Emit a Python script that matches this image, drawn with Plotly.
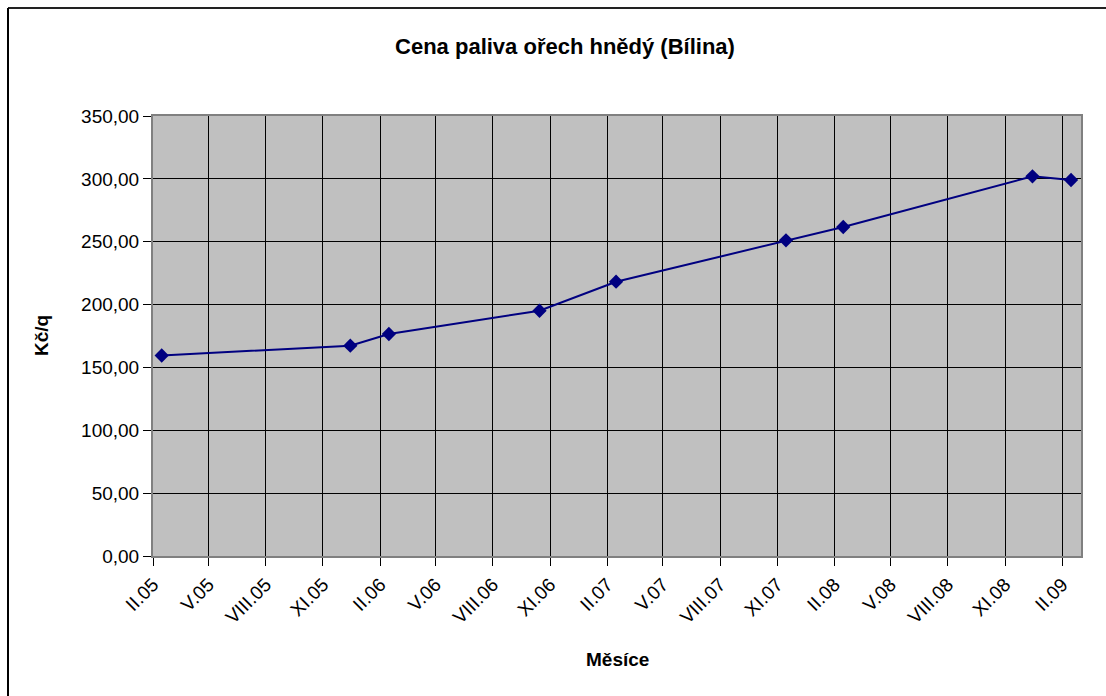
import plotly.graph_objects as go

# Price of brown coal "ořech" fuel from Bílina, Kč per quintal
dates = [
    "2005-02-15", "2005-12-15", "2006-02-15", "2006-10-15", "2007-02-15",
    "2007-11-15", "2008-02-15", "2008-12-15", "2009-02-15",
]
prices = [159.5, 167.3, 176.6, 195.1, 218.2, 251.1, 261.7, 302.0, 299.1]

# Quarterly month ticks labelled with Roman-numeral months
tick_dates = [
    "2005-02-01", "2005-05-01", "2005-08-01", "2005-11-01",
    "2006-02-01", "2006-05-01", "2006-08-01", "2006-11-01",
    "2007-02-01", "2007-05-01", "2007-08-01", "2007-11-01",
    "2008-02-01", "2008-05-01", "2008-08-01", "2008-11-01",
    "2009-02-01",
]
tick_labels = [
    "II.05", "V.05", "VIII.05", "XI.05",
    "II.06", "V.06", "VIII.06", "XI.06",
    "II.07", "V.07", "VIII.07", "XI.07",
    "II.08", "V.08", "VIII.08", "XI.08",
    "II.09",
]
y_ticks = [0, 50, 100, 150, 200, 250, 300, 350]

FONT = "Liberation Sans, Arial, sans-serif"
NAVY = "#000080"
TICK_SIZE = 19

fig = go.Figure(
    go.Scatter(
        x=dates,
        y=prices,
        mode="lines+markers",
        line=dict(color=NAVY, width=2),
        marker=dict(symbol="diamond", size=11, color=NAVY),
        showlegend=False,
        hoverinfo="x+y",
    )
)

axis_common = dict(
    ticks="outside",
    ticklen=8,
    tickcolor="black",
    tickfont=dict(family=FONT, size=TICK_SIZE, color="black"),
    showgrid=True,
    gridcolor="black",
    gridwidth=1,
    showline=True,
    linecolor="#808080",
    linewidth=2,
    mirror=True,
    zeroline=False,
    fixedrange=True,
)

fig.update_layout(
    width=1106,
    height=696,
    margin=dict(l=153, r=25, t=116, b=140, autoexpand=False),
    paper_bgcolor="white",
    plot_bgcolor="#C0C0C0",
    separators=", ",
    font=dict(family=FONT, size=TICK_SIZE, color="black"),
    title=dict(
        text="<b>Cena paliva ořech hnědý (Bílina)</b>",
        x=565 / 1106,
        xref="container",
        xanchor="center",
        y=1 - 46 / 696,
        yref="container",
        yanchor="middle",
        font=dict(family=FONT, size=22, color="black"),
    ),
    xaxis=dict(
        type="date",
        range=["2005-02-01", "2009-03-03"],
        tickmode="array",
        tickvals=tick_dates,
        ticktext=tick_labels,
        tickangle=-45,
        **axis_common,
    ),
    yaxis=dict(
        range=[0, 350],
        tickmode="array",
        tickvals=y_ticks,
        tickformat=".2f",
        **axis_common,
    ),
    annotations=[
        dict(
            text="<b>Měsíce</b>",
            xref="paper", yref="paper",
            x=(617 - 153) / 928, y=(556 - 659) / 440,
            xanchor="center", yanchor="middle",
            showarrow=False,
            font=dict(family=FONT, size=TICK_SIZE, color="black"),
        ),
        dict(
            text="<b>Kč/q</b>",
            xref="paper", yref="paper",
            x=(41 - 153) / 928, y=(556 - 336) / 440,
            xanchor="center", yanchor="middle",
            textangle=-90,
            showarrow=False,
            font=dict(family=FONT, size=TICK_SIZE, color="black"),
        ),
    ],
    shapes=[
        # chart-area frame: top and left edges
        dict(type="line", xref="paper", yref="paper",
             x0=(8 - 153) / 928, x1=(1110 - 153) / 928,
             y0=(556 - 8) / 440, y1=(556 - 8) / 440,
             line=dict(color="#222222", width=2)),
        dict(type="line", xref="paper", yref="paper",
             x0=(8 - 153) / 928, x1=(8 - 153) / 928,
             y0=(556 - 8) / 440, y1=(556 - 700) / 440,
             line=dict(color="black", width=2)),
    ],
)

fig.write_html("out.html")
